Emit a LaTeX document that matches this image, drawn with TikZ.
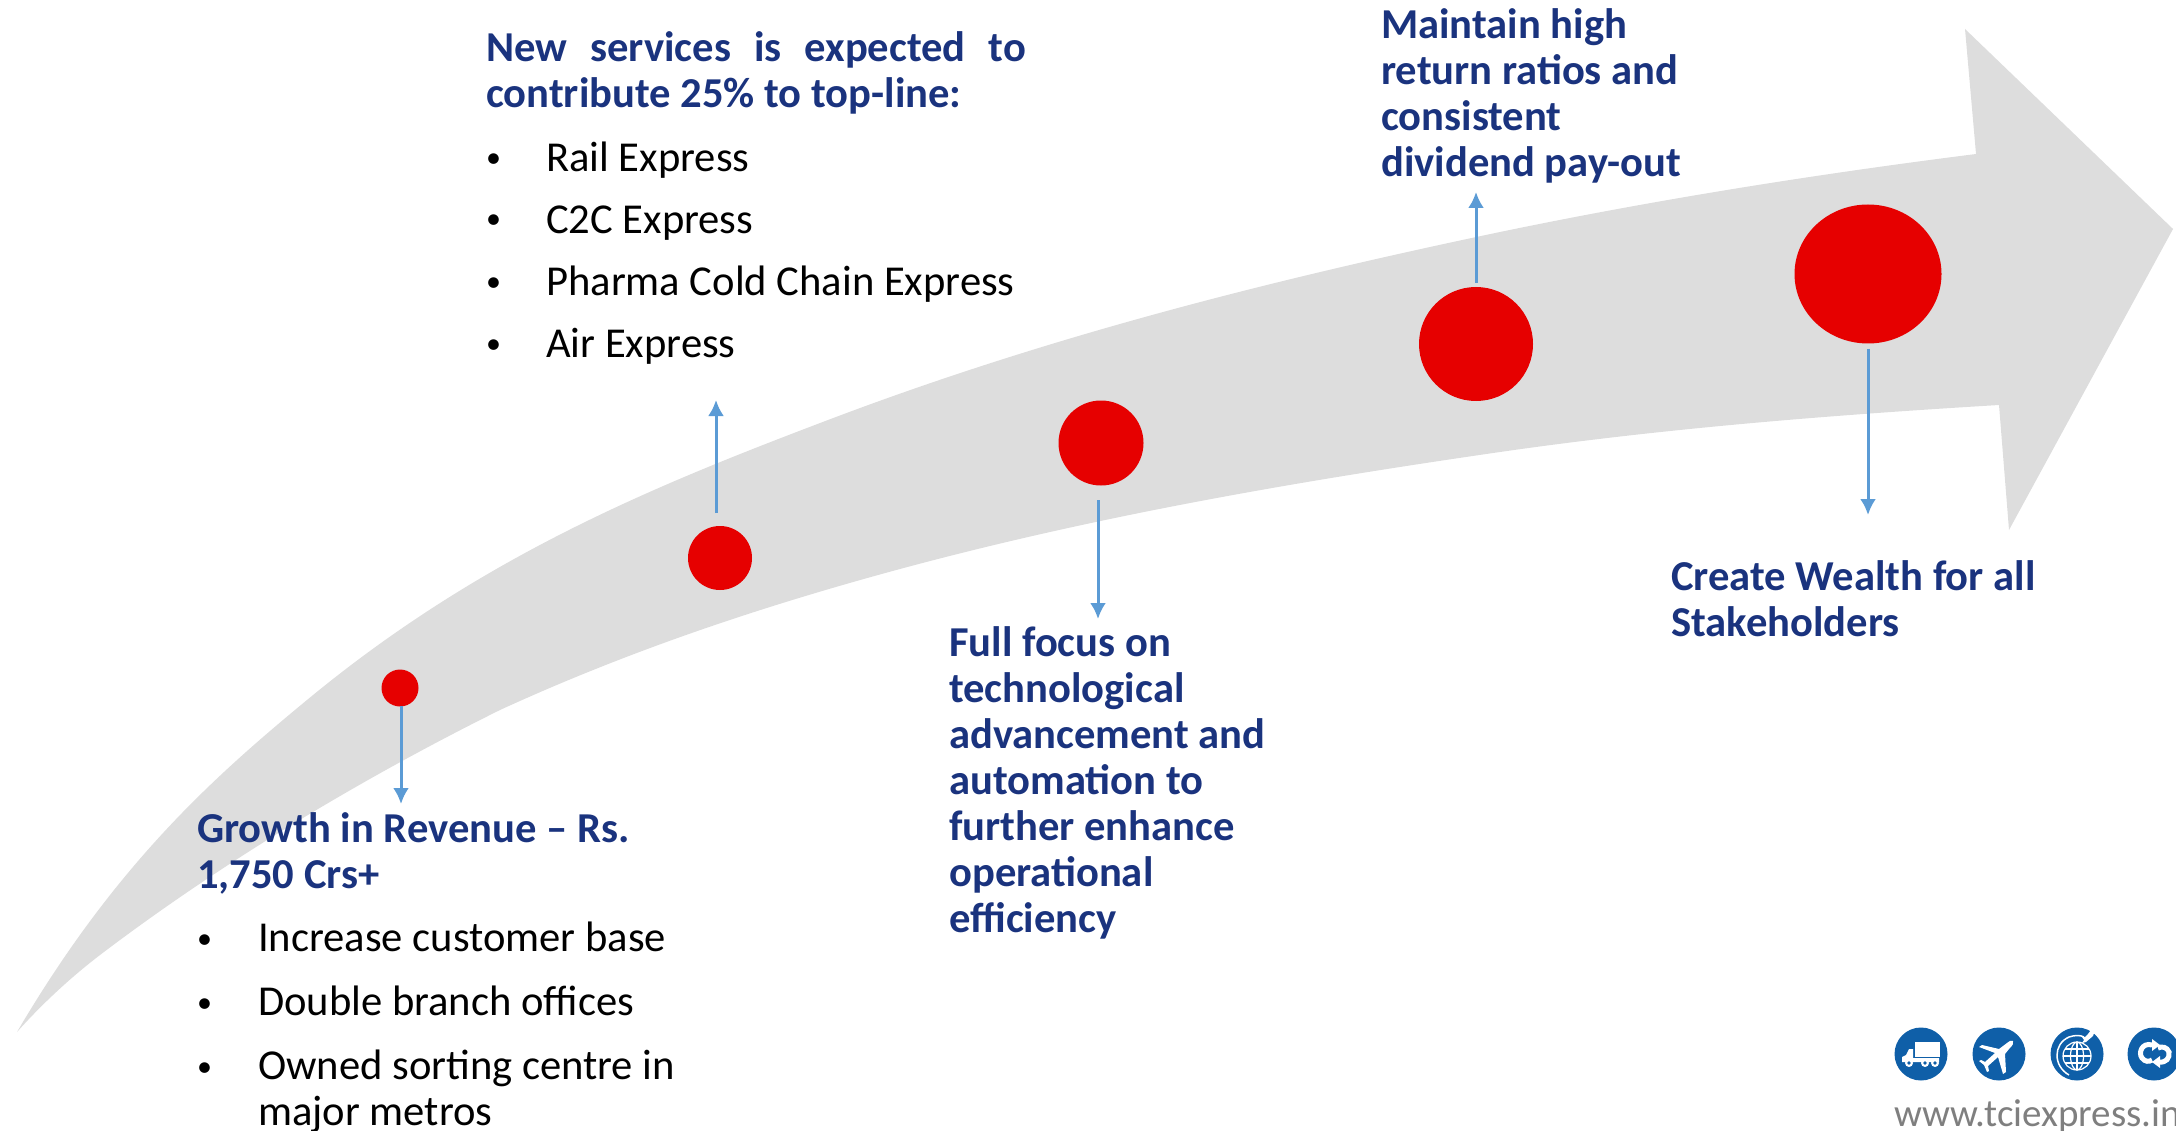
\documentclass[tikz,border=0pt]{standalone}
\usepackage{fontspec}
\setmainfont{Carlito}
\usetikzlibrary{arrows.meta,shapes.geometric}
\definecolor{navy}{HTML}{1A337E}
\definecolor{dotred}{HTML}{E60000}
\definecolor{band}{HTML}{DDDDDD}
\definecolor{link}{HTML}{5B9BD5}
\definecolor{iconblue}{HTML}{0F5FA8}
\definecolor{webgray}{HTML}{7F7F7F}
\tikzset{
  x=1pt,y=-1pt,
  dot/.style={shape=ellipse,fill=dotred,draw=none,inner sep=0pt},
  link arrow/.style={draw=link,line width=3pt,-{Latex[length=16pt,width=16pt]}},
  head/.style={anchor=base west,inner sep=0pt,align=left,text=navy,font=\fontsize{42.6}{46}\selectfont\bfseries},
  item/.style={anchor=base west,inner sep=0pt,align=left,text=black,font=\fontsize{42.6}{46}\selectfont},
  bul/.style={anchor=base west,inner sep=0pt,text=black,font=\fontsize{30}{30}\selectfont},
  badge/.style={shape=circle,fill=iconblue,draw=none,inner sep=0pt,minimum size=53pt},
  icon line/.style={draw=white,line width=2pt,fill=none},
}
\begin{document}
\begin{tikzpicture}
\useasboundingbox (0,0) rectangle (2176,1131);
\clip (0,0) rectangle (2176,1131);
% big arrow
\fill[band] (17,1032)
  .. controls (114,867) and (210,780) .. (307,700)
  .. controls (481,556) and (654,486) .. (828,420)
  .. controls (1052,335) and (1276,279) .. (1500,232)
  .. controls (1659,199) and (1818,174) .. (1976,154)
  -- (1965,29) -- (2173,229) -- (2009,530) -- (1999,405)
  .. controls (1833,415) and (1667,428) .. (1500,452)
  .. controls (1300,481) and (1100,515) .. (900,569)
  .. controls (767,605) and (633,649) .. (500,710)
  .. controls (367,776) and (225,860) .. (100,955)
  .. controls (70,978) and (42,1004) .. (17,1032) -- cycle;
% dots
\node[dot,minimum width=37pt,minimum height=37pt] (c1) at (400,688) {};
\node[dot,minimum width=64pt,minimum height=64pt] (c2) at (720,558) {};
\node[dot,minimum width=85pt,minimum height=85pt] (c3) at (1101,443) {};
\node[dot,minimum width=114pt,minimum height=114pt] (c4) at (1476,344) {};
\node[dot,minimum width=147pt,minimum height=139pt] (c5) at (1868,274) {};
% connector ends
\coordinate (a1s) at (401,706); \coordinate (a1e) at (401,804);
\coordinate (a2s) at (716,513); \coordinate (a2e) at (716,400);
\coordinate (a3s) at (1098,500); \coordinate (a3e) at (1098,619);
\coordinate (a4s) at (1476,283); \coordinate (a4e) at (1476,192);
\coordinate (a5s) at (1868,349); \coordinate (a5e) at (1868,515);
\draw[link arrow] (a1s) -- (a1e);
\draw[link arrow] (a2s) -- (a2e);
\draw[link arrow] (a3s) -- (a3e);
\draw[link arrow] (a4s) -- (a4e);
\draw[link arrow] (a5s) -- (a5e);
% text top middle
\node[head] (t2) at (486,108) {\hbox to 540pt{New\hfill services\hfill is\hfill expected\hfill to}\\contribute 25\% to top-line:};
\node[bul] (b21) at (486,168) {•}; \node[item] (i21) at (546,172) {Rail Express};
\node[bul] (b22) at (486,229) {•}; \node[item] (i22) at (546,234) {C2C Express};
\node[bul] (b23) at (486,292) {•}; \node[item] (i23) at (546,296) {Pharma Cold Chain Express};
\node[bul] (b24) at (486,354) {•}; \node[item] (i24) at (546,358) {Air Express};
% others
\node[head] (t4) at (1381,177) {Maintain high\\return ratios and\\consistent\\dividend pay-out};
\node[head] (t3) at (949,932) {Full focus on\\technological\\advancement and\\automation to\\further enhance\\operational\\efficiency};
\node[head] (t5) at (1671,636) {Create Wealth for all\\Stakeholders};
\node[head] (t1) at (197,888) {Growth in Revenue – Rs.\\1,750 Crs+};
\node[bul] (b11) at (197,948) {•}; \node[item] (i11) at (258,951) {Increase customer base};
\node[bul] (b12) at (197,1012) {•}; \node[item] (i12) at (258,1015) {Double branch offices};
\node[bul] (b13) at (197,1076) {•}; \node[item] (i13) at (258,1125) {Owned sorting centre in\\major metros};
% footer
\node[anchor=base west,inner sep=0pt,text=webgray,font=\fontsize{39}{40}\selectfont] (web) at (1894,1126) {www.tciexpress.in};
% badges
\node[badge] (ic1) at (1921,1054) {};
\node[badge] (ic2) at (1999,1054) {};
\node[badge] (ic3) at (2077,1054) {};
\node[badge] (ic4) at (2154,1054) {};
% truck
\begin{scope}[shift={(ic1.center)}]
\fill[white] (-6,-12) rectangle (19,3);
\fill[white] (-19,8) -- (-19,3) -- (-15,1) -- (-12,-5) -- (-8,-5) -- (-8,4) -- (18,4) -- (18,8) -- cycle;
\foreach \wx in {-12,4,14}{\fill[white] (\wx,9) circle (4); \fill[iconblue] (\wx,9) circle (1.8);}
\end{scope}
% plane
\begin{scope}[shift={(ic2.center)}]
\fill[white] (14,-13) .. controls (15,-11) and (14,-9) .. (10,-5) -- (6,0) -- (7,18) -- (4,20) -- (-1,3) -- (-11,12) -- (-10,17) -- (-12,18) -- (-15,11) -- (-20,7) -- (-18,6) -- (-14,8) -- (-4,-1) -- (-20,-7) -- (-17,-9) -- (0,-5) -- (8,-11) .. controls (10,-13) and (12,-14) .. (14,-13) -- cycle;
\end{scope}
% globe
\begin{scope}[shift={(ic3.center)}]
\draw[icon line,line width=1.2pt] (0,2) circle (14);
\draw[icon line,line width=1.2pt] (0,2) ellipse (6.5 and 14);
\draw[icon line,line width=1.2pt] (-14,2) -- (14,2) (-12,-5) -- (12,-5) (-12,9) -- (12,9) (0,-12) -- (0,16);
\draw[icon line,line width=1.5pt] (-8,21) .. controls (-24,12) and (-24,-10) .. (-8,-17) .. controls (-2,-19) and (3,-19) .. (7,-17);
\fill[white] (16,-18) -- (9,-12) -- (5,-11) -- (7,-14) -- (5,-17) -- (8,-17) -- (11,-20) -- (14,-24) -- (17,-21) -- cycle;
\end{scope}
% cycle arrows
\begin{scope}[shift={(ic4.center)}]
\draw[draw=white,line width=5pt] (-2,-9) .. controls (-12,-12) and (-16,-1) .. (-12,4) .. controls (-9,8) and (-5,8) .. (-2,6);
\fill[white] (-2,-15) -- (6,-9) -- (-2,-3) -- cycle;
\draw[draw=white,line width=5pt] (4,-6) .. controls (8,-8) and (13,-7) .. (15,-2) .. controls (16,4) and (12,9) .. (5,8);
\fill[white] (6,2) -- (-2,8) -- (6,14) -- cycle;
\end{scope}
\end{tikzpicture}
\end{document}
